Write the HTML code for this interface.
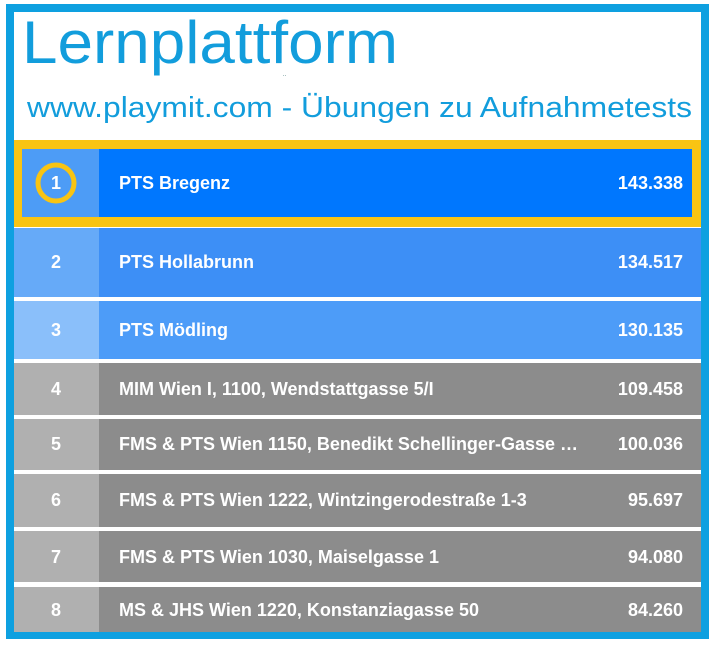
<!DOCTYPE html>
<html><head><meta charset="utf-8"><style>
html,body{margin:0;padding:0;background:#fff;}
svg{display:block;}
text{font-family:"Liberation Sans",Arial,sans-serif;}
.t{fill:#fff;font-weight:bold;font-size:18px;}
</style></head><body>
<svg width="715" height="646" viewBox="0 0 715 646">
<rect x="0" y="0" width="715" height="646" fill="#fff"/>
<rect x="10" y="8" width="695" height="627" fill="none" stroke="#0ea0e0" stroke-width="8"/>
<text x="22" y="63" font-size="60" fill="#129ddc" textLength="376" lengthAdjust="spacingAndGlyphs">Lernplattform</text>
<text x="283" y="82" font-size="10" fill="#8aa">¨</text>
<text x="27" y="117" font-size="29" fill="#129ddc" textLength="665" lengthAdjust="spacingAndGlyphs">www.playmit.com - Übungen zu Aufnahmetests</text>

<rect x="14" y="140" width="687" height="87" fill="#f9c413"/>
<rect x="22" y="149" width="77" height="68" fill="#4d9cf6"/>
<rect x="99" y="149" width="593" height="68" fill="#0077fe"/>
<circle cx="56" cy="183" r="18" fill="none" stroke="#f9c413" stroke-width="5"/>
<text class="t" x="56" y="189" text-anchor="middle">1</text>
<text class="t" x="119" y="189">PTS Bregenz</text>
<text class="t" x="683" y="189" text-anchor="end">143.338</text>

<rect x="14" y="228" width="85" height="69" fill="#66aaf8"/>
<rect x="99" y="228" width="602" height="69" fill="#3d8ff6"/>
<text class="t" x="56" y="268" text-anchor="middle">2</text>
<text class="t" x="119" y="268">PTS Hollabrunn</text>
<text class="t" x="683" y="268" text-anchor="end">134.517</text>

<rect x="14" y="301" width="85" height="58" fill="#8abffa"/>
<rect x="99" y="301" width="602" height="58" fill="#4d9cf8"/>
<text class="t" x="56" y="336" text-anchor="middle">3</text>
<text class="t" x="119" y="336">PTS Mödling</text>
<text class="t" x="683" y="336" text-anchor="end">130.135</text>

<rect x="14" y="363" width="85" height="52" fill="#b0b0b0"/>
<rect x="99" y="363" width="602" height="52" fill="#8c8c8c"/>
<text class="t" x="56" y="395" text-anchor="middle">4</text>
<text class="t" x="119" y="395">MIM Wien I, 1100, Wendstattgasse 5/I</text>
<text class="t" x="683" y="395" text-anchor="end">109.458</text>

<rect x="14" y="419" width="85" height="51" fill="#b0b0b0"/>
<rect x="99" y="419" width="602" height="51" fill="#8c8c8c"/>
<text class="t" x="56" y="450" text-anchor="middle">5</text>
<text class="t" x="119" y="450">FMS &amp; PTS Wien 1150, Benedikt Schellinger-Gasse …</text>
<text class="t" x="683" y="450" text-anchor="end">100.036</text>

<rect x="14" y="474" width="85" height="53" fill="#b0b0b0"/>
<rect x="99" y="474" width="602" height="53" fill="#8c8c8c"/>
<text class="t" x="56" y="506" text-anchor="middle">6</text>
<text class="t" x="119" y="506">FMS &amp; PTS Wien 1222, Wintzingerodestraße 1-3</text>
<text class="t" x="683" y="506" text-anchor="end">95.697</text>

<rect x="14" y="531" width="85" height="51" fill="#b0b0b0"/>
<rect x="99" y="531" width="602" height="51" fill="#8c8c8c"/>
<text class="t" x="56" y="563" text-anchor="middle">7</text>
<text class="t" x="119" y="563">FMS &amp; PTS Wien 1030, Maiselgasse 1</text>
<text class="t" x="683" y="563" text-anchor="end">94.080</text>

<rect x="14" y="587" width="85" height="45" fill="#b0b0b0"/>
<rect x="99" y="587" width="602" height="45" fill="#8c8c8c"/>
<text class="t" x="56" y="616" text-anchor="middle">8</text>
<text class="t" x="119" y="616">MS &amp; JHS Wien 1220, Konstanziagasse 50</text>
<text class="t" x="683" y="616" text-anchor="end">84.260</text>
</svg>
</body></html>
